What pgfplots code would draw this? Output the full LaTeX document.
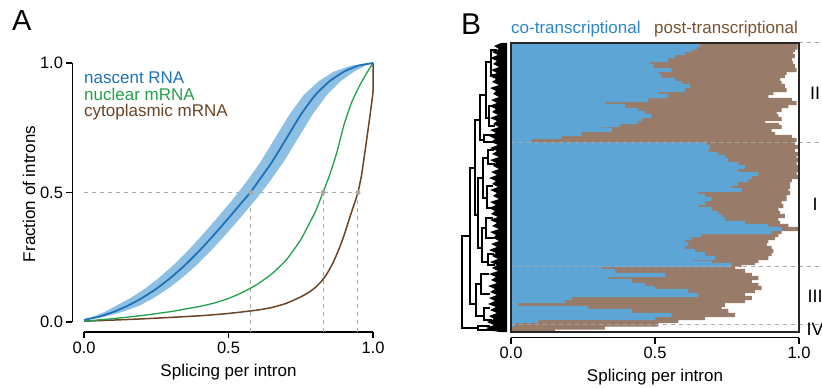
\documentclass[border=0pt]{standalone}
\usepackage{pgfplots}
\usepackage{pgfplotstable}
\pgfplotsset{compat=1.18}
\usepackage{fontspec}
\setmainfont{Liberation Sans}
\definecolor{nasc}{HTML}{1F72B8}
\definecolor{bandc}{HTML}{8DC0E3}
\definecolor{nucl}{HTML}{22A04B}
\definecolor{cyto}{HTML}{6B4325}
\definecolor{coB}{HTML}{5DA5D5}
\definecolor{postB}{HTML}{987B69}
\definecolor{coT}{HTML}{2B86C8}
\definecolor{postT}{HTML}{7A5230}
\definecolor{dgray}{HTML}{A8A8A8}

\pgfplotstableread{
py co tot
45.0 0.656 0.995
47.5 0.645 0.995
50 0.627 0.986
53 0.604 0.980
56 0.569 0.986
60 0.546 0.975
63 0.483 0.980
66 0.494 0.986
70 0.558 0.992
73 0.512 0.957
76 0.523 0.951
80 0.569 0.934
83 0.593 0.940
86 0.622 0.951
90 0.604 0.957
93 0.512 0.911
96 0.546 0.894
100 0.477 0.975
103 0.326 0.992
106 0.396 0.963
110 0.442 0.940
113 0.465 0.922
116 0.488 0.928
119 0.454 0.940
122 0.442 0.882
125 0.380 0.930
127 0.315 0.940
130 0.350 0.905
134 0.245 0.917
137 0.176 0.975
140 0.072 0.992
142 0.010 0.986
144.5 0.679 0.986
147 0.691 0.998
150 0.685 0.986
154 0.720 0.998
157 0.743 0.992
160 0.755 0.998
164 0.789 0.992
167 0.813 0.998
170 0.789 0.998
174 0.859 0.992
177 0.836 0.998
180 0.824 0.975
184 0.789 0.969
187 0.766 0.969
190 0.801 0.963
193 0.650 0.969
196 0.674 0.957
199 0.697 0.957
203 0.674 0.940
206 0.650 0.946
209 0.697 0.928
213 0.720 0.934
216 0.731 0.951
219 0.743 0.928
223 0.813 0.934
226 0.894 0.963
229 0.940 0.998
232 0.905 0.940
235 0.662 0.928
238 0.627 0.917
241 0.604 0.894
244 0.616 0.888
248 0.604 0.905
251 0.639 0.911
254 0.674 0.905
258 0.708 0.894
261 0.627 0.859
263 0.697 0.847
265 0.766 0.801
268 0.315 0.778
271 0.361 0.813
275 0.535 0.836
278 0.338 0.859
281 0.419 0.836
285 0.465 0.859
288 0.500 0.870
291 0.616 0.847
295 0.650 0.813
298 0.211 0.836
301 0.188 0.813
305 0.025 0.743
308 0.269 0.731
311 0.419 0.755
315 0.558 0.778
318 0.500 0.674
321 0.095 0.581
324.5 0.014 0.512
327.5 0.002 0.326
329.9 0.000 0.153
}\splicingB

\begin{document}
\begin{tikzpicture}
\useasboundingbox (0,0) rectangle (822bp,388bp);

% ---------------- Panel A ----------------
\begin{axis}[
  at={(84bp,66bp)}, anchor=south west, scale only axis,
  width=289bp, height=259bp,
  xmin=0, xmax=1, ymin=0, ymax=1, clip=false,
  axis x line=bottom, axis y line=left,
  axis line style={-, line width=1.2bp, black},
  axis x line shift=10bp, axis y line shift=11.5bp,
  xtick={0,0.5,1}, ytick={0,0.5,1},
  xticklabels={0.0,0.5,1.0}, yticklabels={0.0,0.5,1.0},
  tick align=outside, major tick length=6bp,
  every tick/.style={black, line width=1.2bp},
  tick label style={font=\fontsize{16.5bp}{19bp}\selectfont},
]
\addplot[dgray, line width=1bp, dash pattern=on 4bp off 4bp] coordinates {(0,0.5) (0.948,0.5)};
\addplot[dgray, line width=1bp, dash pattern=on 4bp off 4bp] coordinates {(0.577,0.5) (0.577,-0.037)};
\addplot[dgray, line width=1bp, dash pattern=on 4bp off 4bp] coordinates {(0.827,0.5) (0.827,-0.037)};
\addplot[dgray, line width=1bp, dash pattern=on 4bp off 4bp] coordinates {(0.948,0.5) (0.948,-0.037)};
% nascent band
\addplot[fill=bandc, draw=none] coordinates {
(0.005,0.008)(0.07,0.020)(0.13,0.038)(0.19,0.062)(0.24,0.092)(0.29,0.128)(0.34,0.171)(0.39,0.220)(0.44,0.276)(0.49,0.337)(0.54,0.401)(0.59,0.467)(0.64,0.538)(0.69,0.617)(0.74,0.708)(0.79,0.800)(0.84,0.876)(0.888,0.930)(0.935,0.967)(0.975,0.990)(1,1)
(0.925,0.990)(0.865,0.967)(0.812,0.930)(0.76,0.876)(0.71,0.800)(0.66,0.708)(0.61,0.617)(0.56,0.538)(0.51,0.467)(0.46,0.401)(0.41,0.337)(0.36,0.276)(0.31,0.220)(0.26,0.171)(0.21,0.128)(0.16,0.092)(0.11,0.062)(0.07,0.038)(0.03,0.020)(0,0.011)};
% cytoplasmic
\addplot[cyto, line width=1.5bp, smooth, tension=0.3] coordinates {
(0,0.003)(0.2,0.012)(0.4,0.024)(0.5,0.033)(0.6,0.046)(0.65,0.056)(0.70,0.072)(0.75,0.097)(0.78,0.116)(0.80,0.133)(0.82,0.155)(0.84,0.185)(0.86,0.225)(0.88,0.275)(0.90,0.335)(0.92,0.405)(0.935,0.455)(0.948,0.500)(0.96,0.565)(0.97,0.640)(0.98,0.720)(0.99,0.800)(0.997,0.860)(1,0.891)(1,1)};
% nuclear
\addplot[nucl, line width=1.3bp, smooth, tension=0.3] coordinates {
(0,0.003)(0.1,0.013)(0.2,0.025)(0.3,0.040)(0.35,0.050)(0.4,0.060)(0.45,0.073)(0.5,0.091)(0.55,0.115)(0.6,0.146)(0.65,0.186)(0.70,0.240)(0.75,0.318)(0.80,0.425)(0.827,0.500)(0.85,0.568)(0.875,0.655)(0.90,0.763)(0.925,0.845)(0.95,0.905)(0.975,0.955)(1,1)};
% nascent
\addplot[nasc, line width=1.8bp, smooth, tension=0.3] coordinates {
(0,0.008)(0.05,0.020)(0.10,0.038)(0.15,0.062)(0.20,0.092)(0.25,0.128)(0.30,0.171)(0.35,0.220)(0.40,0.276)(0.45,0.337)(0.50,0.401)(0.55,0.467)(0.577,0.502)(0.60,0.538)(0.65,0.617)(0.70,0.708)(0.75,0.800)(0.80,0.876)(0.85,0.930)(0.90,0.967)(0.95,0.990)(1,1)};
\addplot[only marks, mark=*, mark size=2.2bp, dgray] coordinates {(0.577,0.5)(0.827,0.5)(0.948,0.5)};
\end{axis}

% ---------------- Dendrogram ----------------
\begin{axis}[
  at={(455bp,56bp)}, anchor=south west, scale only axis,
  width=56bp, height=289bp,
  xmin=455, xmax=511, ymin=43, ymax=332, y dir=reverse,
  hide axis, clip=false, unbounded coords=jump,
]
\addplot[fill=black, draw=none] coordinates {
(507,43)(501,43)(494,46)(499,49)(492,52)(498,55)(490,58)(497,61)(493,64)(499,67)(491,70)(497,73)(489,76)(496,79)(492,82)(499,85)(490,88)(496,91)(493,94)(499,97)(491,100)(497,103)(489,106)(496,109)(492,112)(498,115)(490,118)(497,121)(493,124)(499,127)(490,130)(496,133)(489,136)(495,139)(491,142)(498,145)(490,148)(497,151)(492,154)(499,157)(490,160)(496,163)(493,166)(499,169)(491,172)(497,175)(489,178)(496,181)(492,184)(498,187)(490,190)(497,193)(493,196)(499,199)(490,202)(496,205)(489,208)(495,211)(491,214)(498,217)(490,220)(497,223)(492,226)(499,229)(490,232)(496,235)(493,238)(499,241)(491,244)(497,247)(489,250)(496,253)(492,256)(498,259)(490,262)(497,265)(492,268)(498,271)(489,274)(496,277)(491,280)(497,283)(488,286)(495,289)(490,292)(497,295)(489,298)(495,301)(488,304)(496,307)(490,310)(497,313)(489,316)(494,319)(487,322)(494,325)(486,328)(493,331)(500,332)(507,332)};
\addplot[black, line width=1.2bp] coordinates {
(470,236)(462,236)(462,328)(478,328) (nan,nan)
(475,168)(470,168)(470,304)(476,304) (nan,nan)
(480,120)(475,120)(475,215)(478,215) (nan,nan)
(486,95)(480,95)(480,140)(484,140) (nan,nan)
(491,62)(486,62)(486,118)(489,118) (nan,nan)
(497,50)(491,50)(491,75)(495,75) (nan,nan)
(494,106)(489,106)(489,126)(495,126) (nan,nan)
(493,135)(484,135)(484,142)(493,142) (nan,nan)
(483,178)(478,178)(478,248)(482,248) (nan,nan)
(488,158)(483,158)(483,198)(487,198) (nan,nan)
(494,150)(488,150)(488,164)(495,164) (nan,nan)
(493,186)(487,186)(487,208)(492,208) (nan,nan)
(486,228)(482,228)(482,262)(488,262) (nan,nan)
(493,218)(486,218)(486,238)(494,238) (nan,nan)
(494,254)(488,254)(488,265)(495,265) (nan,nan)
(481,284)(476,284)(476,316)(484,316) (nan,nan)
(489,274)(481,274)(481,294)(490,294) (nan,nan)
(490,308)(484,308)(484,320)(492,320) (nan,nan)
(490,326)(478,326)(478,330)(493,330)};
\end{axis}

% ---------------- Panel B ----------------
\begin{axis}[
  at={(511bp,56bp)}, anchor=south west, scale only axis,
  width=288bp, height=289bp,
  xmin=0, xmax=1, ymin=43, ymax=332, y dir=reverse, clip=false,
  axis x line=bottom, axis y line=none,
  axis line style={-, line width=1.2bp, black},
  axis x line shift=5.7bp,
  xtick={0,0.5,1}, xticklabels={0.0,0.5,1.0},
  tick align=outside, major tick length=6bp,
  every tick/.style={black, line width=1.2bp},
  tick label style={font=\fontsize{16.5bp}{19bp}\selectfont},
]
\addplot[xbar, bar width=4.2, bar shift=0pt, fill=postB, draw=none] table[x=tot, y=py] {\splicingB};
\addplot[xbar, bar width=4.2, bar shift=0pt, fill=coB, draw=none] table[x=co, y=py] {\splicingB};
\addplot[dgray, line width=1bp, dash pattern=on 4bp off 4bp] coordinates {(0,142.7) (1.08,142.7)};
\addplot[dgray, line width=1bp, dash pattern=on 4bp off 4bp] coordinates {(0,266) (1.08,266)};
\addplot[dgray, line width=1bp, dash pattern=on 4bp off 4bp] coordinates {(0,324.3) (1.08,324.3)};
\addplot[dgray, line width=1bp, dash pattern=on 4bp off 4bp] coordinates {(1,43) (1.08,43)};
\draw[line width=1.3bp, black!85] (axis cs:0,43) rectangle (axis cs:1,332);
\node[font=\fontsize{18bp}{20bp}\selectfont] at (axis cs:1.056,93) {II};
\node[font=\fontsize{18bp}{20bp}\selectfont] at (axis cs:1.056,204) {I};
\node[font=\fontsize{18bp}{20bp}\selectfont] at (axis cs:1.056,296) {III};
\node[font=\fontsize{18bp}{20bp}\selectfont] at (axis cs:1.056,329) {IV};
\end{axis}

% ---------------- Texts ----------------
\node[anchor=base west, inner sep=0, font=\fontsize{29bp}{32bp}\selectfont] at (12bp,357bp) {A};
\node[anchor=base west, inner sep=0, font=\fontsize{30bp}{33bp}\selectfont] at (461bp,353bp) {B};
\node[anchor=base west, inner sep=0, text=nasc, font=\fontsize{17bp}{20bp}\selectfont] at (84bp,304.3bp) {nascent RNA};
\node[anchor=base west, inner sep=0, text=nucl, font=\fontsize{17bp}{20bp}\selectfont] at (84bp,287.3bp) {nuclear mRNA};
\node[anchor=base west, inner sep=0, text=cyto, font=\fontsize{17bp}{20bp}\selectfont] at (84bp,271bp) {cytoplasmic mRNA};
\node[anchor=base, inner sep=0, font=\fontsize{17bp}{20bp}\selectfont] at (228.5bp,12bp) {Splicing per intron};
\node[anchor=base, inner sep=0, font=\fontsize{17bp}{20bp}\selectfont] at (655bp,7bp) {Splicing per intron};
\node[anchor=base, inner sep=0, rotate=90, font=\fontsize{17bp}{20bp}\selectfont] at (35bp,194bp) {Fraction of introns};
\node[anchor=base west, inner sep=0, text=coT, font=\fontsize{17bp}{20bp}\selectfont] at (511bp,354bp) {co-transcriptional};
\node[anchor=base east, inner sep=0, text=postT, font=\fontsize{17bp}{20bp}\selectfont] at (798bp,354bp) {post-transcriptional};
\end{tikzpicture}
\end{document}
